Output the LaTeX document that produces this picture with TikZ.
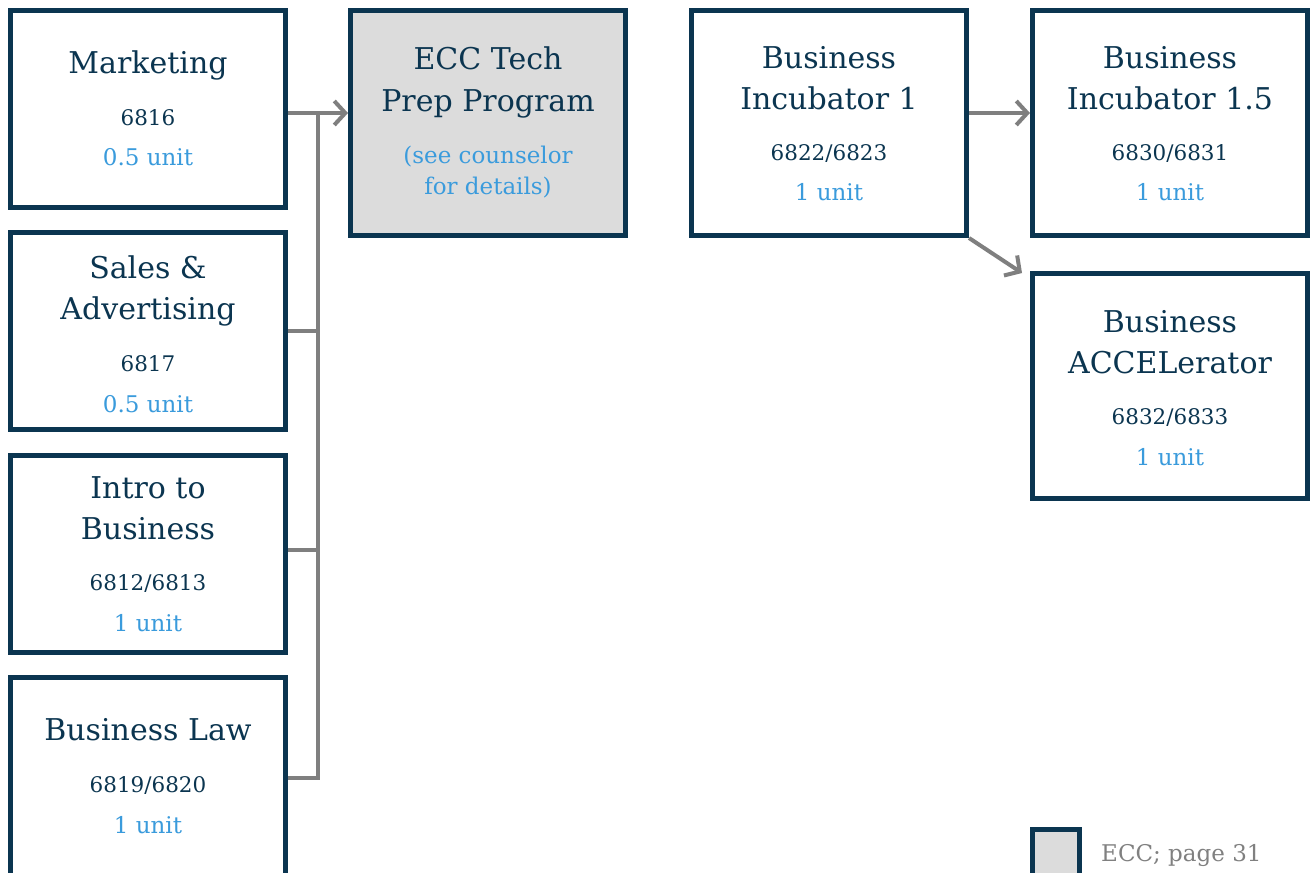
\documentclass[tikz,border=0pt]{standalone}
\usepackage{fontspec}
\setmainfont{DejaVu Serif}
\usetikzlibrary{arrows.meta}
\definecolor{navy}{HTML}{0B3550}
\definecolor{unitblue}{HTML}{3A9BDC}
\definecolor{conngray}{HTML}{7F7F7F}
\definecolor{boxfill}{HTML}{DCDCDC}
\definecolor{legtext}{HTML}{808080}
\tikzset{
  course/.style={draw=navy, line width=5pt, fill=white, inner sep=0pt, minimum width=275pt},
  eccbox/.style={course, fill=boxfill},
  ttl/.style={anchor=base, text=navy, font=\fontsize{30}{35}\selectfont, inner sep=0pt},
  num/.style={anchor=base, text=navy, font=\fontsize{21.5}{25}\selectfont, inner sep=0pt},
  unitt/.style={anchor=base, text=unitblue, font=\fontsize{23}{27}\selectfont, inner sep=0pt},
  conn/.style={draw=conngray, line width=4pt},
  arr/.style={conn, -{Straight Barb[length=11pt, width=24pt]}},
  legt/.style={anchor=base west, text=legtext, font=\fontsize{23}{27}\selectfont, inner sep=0pt}
}
\begin{document}
\begin{tikzpicture}[x=1pt, y=-1pt]
\useasboundingbox (0,0) rectangle (1310,873);
% boxes
\node[course, minimum height=197pt] (mk) at (148,109) {};
\node[course, minimum height=197pt] (sa) at (148,331) {};
\node[course, minimum height=197pt] (ib) at (148,554) {};
\node[course, minimum height=222.5pt] (bl) at (148,788.75) {};
\node[eccbox, minimum height=225pt] (ecc) at (488,123) {};
\node[course, minimum height=225pt] (inc) at (829,123) {};
\node[course, minimum height=225pt] (inc15) at (1170,123) {};
\node[course, minimum height=225pt] (acc) at (1170,386) {};
\node[eccbox, minimum width=47pt, minimum height=70.5pt] (leg) at (1056,864.75) {};
% texts
\node[ttl] (mkT) at (148,73) {Marketing};
\node[num] (mkN) at (148,125) {6816};
\node[unitt] (mkU) at (148,165) {0.5 unit};

\node[ttl] (saT1) at (148,278) {Sales \&};
\node[ttl] (saT2) at (148,319) {Advertising};
\node[num] (saN) at (148,371) {6817};
\node[unitt] (saU) at (148,412) {0.5 unit};

\node[ttl] (ibT1) at (148,498) {Intro to};
\node[ttl] (ibT2) at (148,539) {Business};
\node[num] (ibN) at (148,590) {6812/6813};
\node[unitt] (ibU) at (148,631) {1 unit};

\node[ttl] (blT) at (148,740) {Business Law};
\node[num] (blN) at (148,792) {6819/6820};
\node[unitt] (blU) at (148,833) {1 unit};

\node[ttl] (eccT1) at (488,69) {ECC Tech};
\node[ttl] (eccT2) at (488,111) {Prep Program};
\node[unitt] (eccS1) at (488,163) {(see counselor};
\node[unitt] (eccS2) at (488,194) {for details)};

\node[ttl] (incT1) at (829,68) {Business};
\node[ttl] (incT2) at (829,109) {Incubator 1};
\node[num] (incN) at (829,160) {6822/6823};
\node[unitt] (incU) at (829,200) {1 unit};

\node[ttl] (i15T1) at (1170,68) {Business};
\node[ttl] (i15T2) at (1170,109) {Incubator 1.5};
\node[num] (i15N) at (1170,160) {6830/6831};
\node[unitt] (i15U) at (1170,200) {1 unit};

\node[ttl] (accT1) at (1170,332) {Business};
\node[ttl] (accT2) at (1170,373) {ACCELerator};
\node[num] (accN) at (1170,424) {6832/6833};
\node[unitt] (accU) at (1170,465) {1 unit};

\node[legt] (legT) at (1101,861) {ECC; page 31};
% connectors
\coordinate (j1) at (318,113);
\coordinate (jS) at (318,331);
\coordinate (jI) at (318,550);
\coordinate (jL) at (318,778);
\coordinate (dtip) at (1022,273);
\draw[conn] (bl.east |- jL) -- (jL) -- (j1);
\draw[conn] (sa.east |- jS) -- (jS);
\draw[conn] (ib.east |- jI) -- (jI);
\draw[arr] (mk.east |- j1) -- (ecc.west |- j1);
\draw[arr] (inc.east |- j1) -- (inc15.west |- j1);
\draw[arr] (inc.south east) -- (dtip);
\end{tikzpicture}
\end{document}
